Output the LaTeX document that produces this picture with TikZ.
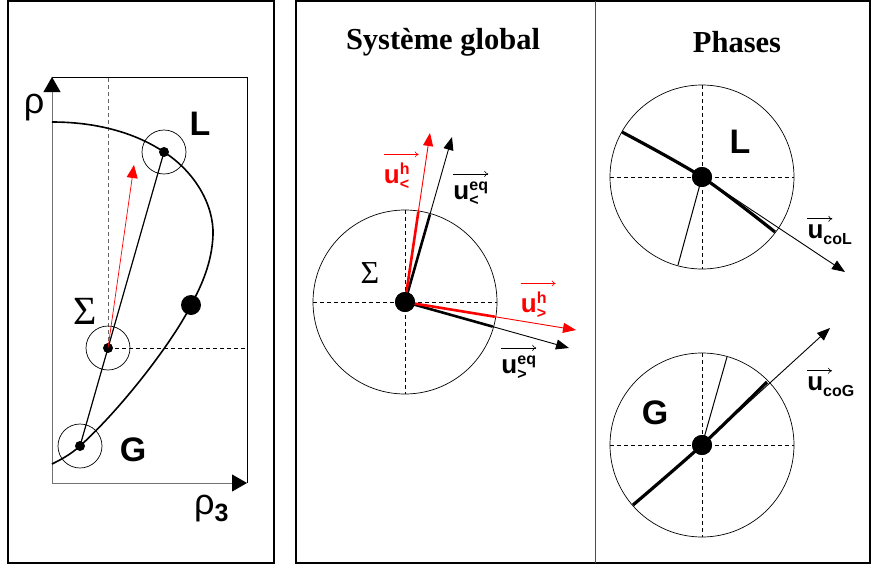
\documentclass[tikz,border=0pt]{standalone}
\usepackage{fontspec}
\setmainfont{Liberation Serif}
\setsansfont{Liberation Sans}
\usetikzlibrary{arrows.meta,calc}

\newcommand{\vu}[2]{$\mbox{u}^{\mbox{\fontsize{16}{16}\selectfont#1}}_{\mbox{\fontsize{16}{16}\selectfont#2}}$}

\begin{document}
\begin{tikzpicture}[x=1pt,y=-1pt,every node/.style={inner sep=0pt},
    cadre/.style={line width=1.2pt},
    axe/.style={black!55, line width=0.9pt, -{Triangle[length=15pt,width=17pt,color=black]}},
    pointille/.style={dash pattern=on 4pt off 3pt, line width=0.7pt},
    cercle/.style={line width=0.7pt},
    petitpt/.style={circle, fill, minimum size=10pt},
    grospt/.style={circle, fill, minimum size=20pt},
    lettre/.style={font=\fontsize{34}{34}\selectfont\sffamily\bfseries},
    vlbl/.style={font=\fontsize{26}{26}\selectfont\sffamily\bfseries},
    fleche/.style={-{Triangle[length=13pt,width=10pt]}, line width=0.9pt},
    fleche2/.style={-{Triangle[length=13pt,width=11pt]}, line width=0.7pt},
    vecbar/.style={-{To[length=4pt,width=6pt]}, line width=0.6pt}]
    \useasboundingbox (0,0) rectangle (871,568);
    % cadres
    \draw[cadre] (8,1) rectangle (274,563);
    \draw[cadre] (296,1) rectangle (870,563);
    \draw[black!70, line width=1pt] (595,1) -- (595,563);
    \node[font=\fontsize{30.5}{30.5}\selectfont\bfseries] (titreS) at (443,42) {Système global};
    \node[font=\fontsize{30.5}{30.5}\selectfont\bfseries] (titreP) at (737,42) {Phases};

    % diagramme rho / rho3
    \coordinate (o) at (52,483);
    \coordinate (hy) at (52,77);
    \coordinate (hx) at (247,483);
    \draw[line width=0.8pt] (hy) -- (247,77) -- (hx);
    \draw[axe] (o) -- (hy);
    \draw[axe] (o) -- (hx);
    \node[font=\fontsize{36}{36}\selectfont\sffamily] (rho) at (34,108) {ρ};
    \node[font=\fontsize{36}{36}\selectfont\sffamily, anchor=base west] (rho3) at (194,514) {ρ\raisebox{-7pt}{\fontsize{25}{25}\selectfont\bfseries 3}};
    \node[petitpt] (L) at (164,152) {};
    \node[petitpt] (S) at (108,348) {};
    \node[petitpt] (G) at (80,446) {};
    \node[grospt] (D) at (191,305) {};
    \coordinate (hS) at (134,165);
    \draw[black!60, pointille] (S.center) -- (S.center |- hy);
    \draw[pointille] (S.center) -- (S.center -| hx);
    \foreach \p in {L,S,G} \draw[cercle] (\p.center) circle[radius=22pt];
    \draw[line width=1.6pt] (52,122) .. controls (95,122) and (134,132) .. (L.center)
        .. controls (195,172) and (214,205) .. (213,235)
        .. controls (212,262) and (202,285) .. (D.center)
        .. controls (175,338) and (125,405) .. (G.center)
        .. controls (70,455) and (60,460) .. (52,464);
    \draw[line width=1.2pt] (G.center) -- (L.center);
    \draw[red, fleche2] (S.center) -- (hS);
    \node[lettre] (nL) at (200,124) {L};
    \node[lettre] (nG) at (133,450) {G};
    \node[font=\fontsize{40}{40}\selectfont] (nS) at (85,311) {Σ};

    % systeme global
    \node[grospt] (M) at (405,302) {};
    \draw[cercle] (M.center) circle[radius=92pt];
    \draw[pointille] (M.center) +(-92,0) -- +(92,0);
    \draw[pointille] (M.center) +(0,-92) -- +(0,92);
    \coordinate (eqI) at (452,137);
    \coordinate (hI) at (430,133);
    \coordinate (hS2) at (576,330);
    \coordinate (eqS) at (569,348);
    \foreach \t/\c in {eqI/black,hI/red,eqS/black,hS2/red}{
        \draw[fleche, \c] (M.center) -- (\t);
        \draw[\c, line width=2.6pt] (M.center) -- ($(M.center)!91pt!(\t)$);
    }
    \node[grospt] at (M) {};
    \node[font=\fontsize{32}{32}\selectfont] (nS2) at (370,273) {Σ};
    \node[vlbl, red] (uhI) at (397,176) {\vu{h}{<}};
    \node[vlbl] (ueqI) at (471,194) {\vu{eq}{<}};
    \node[vlbl, red] (uhS) at (534,305) {\vu{h}{>}};
    \node[vlbl] (ueqS) at (519,368) {\vu{eq}{>}};
    \draw[vecbar, red] ([yshift=8pt]uhI.north west) -- ++(35,0);
    \draw[vecbar] ([yshift=8pt]ueqI.north west) -- ++(35,0);
    \draw[vecbar, red] ([yshift=8pt]uhS.north west) -- ++(35,0);
    \draw[vecbar] ([yshift=8pt]ueqS.north west) -- ++(35,0);

    % phases
    \node[grospt] (PL) at (702,177) {};
    \node[grospt] (PG) at (702,445) {};
    \foreach \p in {PL,PG}{
        \draw[cercle] (\p.center) circle[radius=92pt];
        \draw[pointille] (\p.center) +(-92,0) -- +(92,0);
        \draw[pointille] (\p.center) +(0,-92) -- +(0,92);
    }
    \coordinate (tL) at (845,272);
    \coordinate (tG) at (830,328);
    \draw[line width=3.2pt] plot[smooth] coordinates {(622,132) (PL.center) (775,232)};
    \draw[line width=3.2pt] plot[smooth] coordinates {(633,505) (PG.center) (767,382)};
    \draw[line width=1pt] (PL.center) -- (678,265);
    \draw[line width=1pt] (PG.center) -- (727,357);
    \draw[fleche] (PL.center) -- (tL);
    \draw[fleche] (PG.center) -- (tG);
    \node[grospt] at (PL) {};
    \node[grospt] at (PG) {};
    \node[lettre] (nL2) at (740,142) {L};
    \node[lettre] (nG2) at (655,413) {G};
    \node[vlbl] (ucoL) at (830,235) {\vu{}{coL}};
    \node[vlbl] (ucoG) at (831,387) {\vu{}{coG}};
    \draw[vecbar] ([yshift=6pt]ucoL.north west) -- ++(25,0);
    \draw[vecbar] ([yshift=6pt]ucoG.north west) -- ++(25,0);
\end{tikzpicture}
\end{document}
